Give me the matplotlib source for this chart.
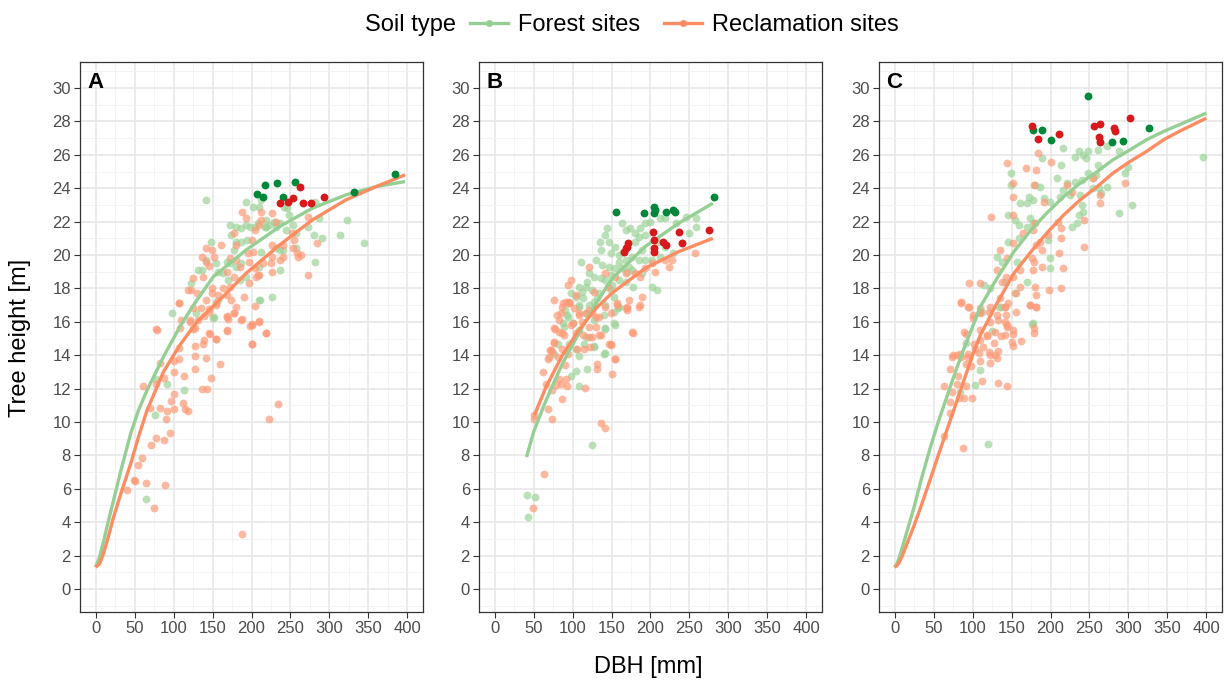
import matplotlib
matplotlib.use("Agg")
import matplotlib.pyplot as plt
from matplotlib.lines import Line2D
from matplotlib.ticker import MultipleLocator
from matplotlib.offsetbox import HPacker

plt.rcParams['font.family'] = ['Liberation Sans', 'DejaVu Sans']

# ---------------- Data ----------------
panel_labels = ["A", "B", "C"]
x_ticks = [0, 50, 100, 150, 200, 250, 300, 350, 400]
y_ticks = list(range(0, 31, 2))
legend_title = "Soil type"
legend_labels = ["Forest sites", "Reclamation sites"]

# Panel A
A_forest_x = [141, 193, 202, 210, 212, 242, 246, 248, 282, 172, 174, 180, 187, 193, 198, 204, 208, 217, 219, 223,
              229, 232, 236, 244, 253, 257, 272, 286, 280, 291, 313, 323, 344, 180, 187, 194, 178, 212, 231, 237,
              241, 257, 281, 148, 142, 155, 168, 187, 173, 180, 210, 236, 132, 137, 157, 163, 185, 193, 122, 157,
              210, 226, 98, 129, 152, 170, 219, 151, 78, 92, 114, 76, 65, 211]
A_forest_y = [23.3, 23.2, 22.9, 22.9, 23.3, 22.9, 22.8, 22.4, 23.2, 21.8, 21.2, 21.7, 21.6, 21.8, 21.7, 21.7, 21.9, 21.7, 22.1, 21.8,
              22.0, 21.7, 21.9, 21.5, 21.8, 21.3, 21.7, 22.2, 21.2, 21.0, 21.2, 22.1, 20.7, 20.8, 20.8, 20.9, 20.3, 20.2, 20.4, 20.3,
              20.3, 20.4, 19.6, 20.8, 19.7, 19.5, 19.6, 19.5, 19.5, 19.3, 19.3, 19.1, 19.1, 19.1, 19.0, 18.9, 18.5, 18.7, 18.3, 17.3,
              17.3, 17.5, 16.5, 16.5, 16.3, 18.5, 21.7, 16.2, 12.6, 12.3, 11.9, 10.4, 5.4, 17.3]
A_recl_x = [107, 78, 108, 121, 125, 131, 139, 146, 155, 168, 170, 169, 178, 188, 200, 209, 205, 219, 201, 147,
            154, 138, 127, 107, 127, 141, 159, 127, 113, 101, 100, 107, 83, 88, 78, 61, 148, 136, 143, 101,
            97, 112, 118, 115, 101, 82, 70, 91, 90, 77, 95, 88, 71, 60, 54, 49, 50, 40, 65, 89,
            75, 188, 222, 234, 198,
            188, 193, 212, 226, 177, 210, 212, 205, 231, 180, 200, 202, 226, 240, 252, 255, 253, 260, 263, 272,
            284, 273, 142, 149, 152, 161, 136, 142, 146, 172, 180, 195, 168, 178, 185, 197, 204, 215, 225, 226,
            208, 197, 172, 163, 149, 138, 125, 118, 130, 142, 149, 157, 168, 174, 180, 190, 206, 209, 226, 240,
            236, 259, 107, 125, 135, 146, 155, 168, 178, 186, 200, 210, 219, 201, 168, 155, 146, 139, 127, 121,
            110, 79, 123]
A_recl_y = [17.1, 15.55, 15.6, 16.0, 15.55, 16.1, 16.35, 16.75, 17.1, 16.35, 16.15, 15.45, 16.55, 16.15, 15.85, 16.05, 16.95, 15.35, 14.65, 15.25,
            14.95, 14.65, 14.55, 14.45, 13.97, 13.85, 13.45, 13.17, 12.75, 13.0, 13.65, 13.8, 13.55, 12.65, 12.28, 12.16, 12.65, 11.95, 11.95, 11.65,
            11.25, 11.15, 10.65, 10.75, 10.75, 10.85, 10.85, 10.65, 10.15, 9.05, 9.35, 8.95, 8.65, 7.85, 7.45, 6.5, 6.45, 5.95, 6.35, 6.25,
            4.85, 3.3, 10.15, 11.05, 15.75,
            22.6, 22.2, 22.6, 22.5, 21.3, 21.8, 22.1, 21.5, 22.0, 20.6, 20.9, 20.2, 20.6, 20.6, 21.3, 20.9, 20.4, 19.9, 20.0, 22.3,
            20.7, 18.8, 20.4, 20.3, 19.9, 20.6, 19.9, 19.6, 19.35, 19.8, 19.7, 20.1, 19.0, 18.7, 19.3, 19.6, 19.2, 19.5, 19.5, 19.0,
            18.8, 18.3, 18.1, 18.0, 18.0, 18.7, 18.6, 17.9, 17.7, 17.3, 17.7, 17.6, 17.6, 17.3, 16.9, 17.5, 18.7, 18.8, 19.9, 19.9,
            19.7, 20.1, 17.1, 16.8, 16.8, 16.6, 17.0, 16.3, 16.5, 16.1, 15.8, 16.0, 15.3, 14.7, 15.5, 15.0, 15.3, 14.9, 15.6, 16.1,
            16.1, 15.5, 17.9]
A_forest_top_x = [217, 233, 256, 207, 215, 241, 332, 384]
A_forest_top_y = [24.2, 24.3, 24.35, 23.65, 23.5, 23.5, 23.8, 24.85]
A_recl_top_x = [262, 236, 247, 253, 266, 276, 293]
A_recl_top_y = [24.1, 23.1, 23.15, 23.4, 23.1, 23.1, 23.45]
A_forest_fit_x = [0, 5, 10, 15, 23, 33, 45, 55, 66, 87, 108, 127, 151, 193, 236, 278, 321, 360, 397]
A_forest_fit_y = [1.3, 1.9, 2.8, 3.8, 5.3, 7.2, 9.3, 10.7, 11.9, 13.9, 15.7, 17.1, 18.7, 20.3, 21.7, 22.8, 23.6, 24.1, 24.4]
A_recl_fit_x = [0, 5, 10, 15, 23, 33, 45, 55, 66, 87, 108, 130, 159, 193, 236, 278, 321, 360, 397]
A_recl_fit_y = [1.3, 1.5, 2.1, 2.9, 4.3, 5.8, 7.5, 9.1, 10.7, 13.0, 14.6, 16.0, 17.3, 18.9, 20.6, 22.1, 23.3, 24.1, 24.8]

# Panel B
B_forest_x = [163, 168, 174, 180, 187, 193, 200, 144, 141, 135, 147, 155, 180, 185, 193, 212, 219, 233, 246, 259,
              259, 249, 240, 229, 219, 210, 189, 137, 149, 159, 168, 176, 185, 193, 202, 212, 111, 130, 138, 147,
              155, 163, 172, 176, 189, 121, 127, 136, 142, 149, 159, 168, 178, 202, 208, 108, 117, 125, 134, 149,
              98, 104, 113, 121, 142, 153, 159, 108, 117, 127, 94, 100, 142, 154, 89, 108, 117, 127, 140, 96,
              81, 76, 88, 93, 108, 140, 153, 158, 142, 115, 127, 105, 108, 141, 104, 98, 118, 108, 125, 41,
              52, 43, 90, 153, 150, 165, 170, 132, 118, 112, 128, 160]
B_forest_y = [21.9, 21.5, 21.6, 21.3, 21.6, 21.9, 22.0, 21.6, 21.2, 20.8, 20.8, 20.5, 20.8, 21.1, 21.2, 22.2, 22.2, 21.9, 22.3, 22.2,
              21.7, 21.3, 20.7, 20.1, 20.5, 20.8, 20.3, 20.3, 20.1, 20.0, 19.7, 19.9, 19.7, 19.7, 19.7, 19.9, 19.6, 19.7, 19.4, 19.3,
              19.2, 19.2, 19.3, 19.1, 18.9, 18.9, 18.7, 18.6, 18.5, 18.8, 18.5, 18.4, 18.1, 18.1, 17.9, 18.1, 18.1, 17.9, 17.7, 17.9,
              17.7, 17.5, 17.4, 17.0, 17.0, 17.5, 16.9, 16.9, 16.5, 16.1, 16.3, 15.9, 15.6, 15.8, 15.7, 15.5, 15.1, 14.5, 14.1, 14.7,
              14.7, 14.1, 15.9, 16.4, 17.0, 16.4, 15.9, 16.8, 15.55, 14.7, 14.55, 14.35, 13.95, 14.15, 13.05, 12.75, 13.15, 12.15, 8.65, 5.6,
              5.5, 4.3, 16.7, 16.6, 18.2, 20.2, 19.0, 17.4, 18.4, 17.8, 17.2, 19.6]
B_recl_x = [257, 224, 227, 206, 193, 187, 180, 168, 155, 142, 121, 98, 94, 189, 172, 168, 157, 149, 134, 125,
            117, 108, 102, 87, 91, 96, 85, 83, 76, 83, 89, 104, 121, 130, 134, 125, 149, 176, 123, 115,
            106, 76, 72, 70, 155, 185, 202, 219,
            76, 88, 95, 96, 108, 121, 130, 142, 157, 170, 170, 186, 177, 78, 86, 98, 113, 121, 136, 147,
            149, 155, 76, 71, 74, 87, 94, 81, 69, 90, 62, 82, 92, 85, 79, 93, 66, 74, 87, 116,
            132, 132, 151, 68, 51, 51, 74, 137, 142, 63, 49, 112, 100, 128, 145, 80, 105]
B_recl_y = [20.1, 19.3, 19.7, 19.0, 19.2, 18.7, 18.9, 18.9, 18.7, 18.9, 19.3, 18.5, 18.2, 17.5, 17.3, 16.8, 17.1, 16.5, 16.3, 16.5,
            16.5, 16.4, 16.8, 16.9, 17.2, 17.1, 16.5, 16.1, 15.6, 15.4, 15.2, 15.3, 15.7, 15.7, 15.2, 15.1, 14.7, 15.4, 14.5, 14.4,
            14.4, 14.8, 14.3, 13.9, 13.8, 16.9, 19.5, 19.7,
            17.3, 17.1, 17.1, 17.2, 16.5, 16.7, 16.3, 16.9, 17.0, 16.7, 16.9, 17.0, 15.35, 15.55, 15.3, 15.8, 15.2, 15.1, 15.2, 14.7,
            14.6, 13.75, 14.75, 14.3, 14.2, 14.35, 14.1, 13.9, 13.75, 13.4, 13.0, 12.6, 12.6, 12.3, 12.2, 12.15, 12.3, 11.9, 11.4, 12.05,
            13.45, 13.2, 12.85, 10.8, 10.4, 10.2, 10.15, 9.95, 9.65, 6.9, 4.85, 16.0, 15.9, 17.8, 18.1, 16.4, 17.6]
B_forest_top_x = [156, 192, 205, 206, 205, 220, 229, 231, 281]
B_forest_top_y = [22.6, 22.5, 22.9, 22.7, 22.5, 22.6, 22.7, 22.6, 23.5]
B_recl_top_x = [168, 170, 171, 166, 203, 205, 204, 205, 216, 220, 236, 241, 275]
B_recl_top_y = [20.4, 20.5, 20.7, 20.2, 21.4, 20.9, 20.4, 20.2, 20.8, 20.6, 21.4, 20.7, 21.5]
B_forest_fit_x = [41, 50, 66, 87, 108, 130, 151, 193, 236, 280]
B_forest_fit_y = [7.9, 9.4, 11.3, 13.5, 15.3, 17.1, 18.6, 20.5, 21.9, 23.1]
B_recl_fit_x = [51, 66, 87, 108, 130, 150, 193, 236, 280]
B_recl_fit_y = [10.4, 12.1, 14.0, 15.5, 16.8, 17.7, 19.2, 20.2, 21.0]

# Panel C
C_forest_x = [216, 189, 214, 231, 237, 242, 248, 246, 261, 272, 288, 299, 295, 273, 261, 259, 255, 248, 240, 231,
              221, 208, 216, 212, 225, 238, 240, 242, 237, 234, 228, 255, 265, 262, 305, 288, 395, 180, 186, 149,
              149, 173, 177, 161, 170, 192, 199, 145, 155, 160, 170, 178, 174, 146, 159, 197, 131, 138, 157, 199,
              199, 115, 123, 141, 136, 177, 156, 170, 134, 176, 125, 92, 110, 103, 84, 120, 112]
C_forest_y = [26.4, 25.8, 25.4, 25.9, 26.2, 26.0, 26.2, 25.8, 26.3, 26.5, 26.2, 25.3, 24.9, 24.1, 25.4, 24.8, 24.6, 24.9, 24.5, 24.4,
              24.3, 24.6, 23.9, 23.5, 23.6, 23.6, 23.0, 22.6, 22.4, 21.9, 21.7, 24.0, 23.7, 24.0, 23.0, 22.5, 25.9, 24.2, 24.1, 24.9,
              24.2, 23.5, 23.3, 23.1, 23.1, 23.4, 23.2, 22.4, 22.1, 21.8, 21.7, 21.9, 22.2, 20.8, 21.0, 20.9, 19.9, 19.6, 19.6, 19.8,
              19.2, 18.2, 18.0, 18.4, 16.9, 15.9, 17.7, 18.4, 16.9, 15.85, 15.45, 14.75, 13.1, 12.2, 11.8, 8.7, 16.6]
C_recl_x = [184, 201, 144, 168, 182, 179, 152, 152, 192, 221, 228, 255, 264, 263, 295, 243, 124, 152, 180, 210,
            214, 178, 165, 197, 187, 214, 152, 182, 135, 189, 211, 243, 144, 176, 179, 161, 178, 189, 216, 132,
            143, 152, 138, 109, 96, 161, 180, 198, 213, 155, 182, 174, 182, 135, 142, 85, 94, 110, 121, 101,
            110, 131, 143, 142, 144, 152, 150, 179, 123, 110, 119, 129, 110, 102, 89, 75, 85, 94, 121, 129,
            85, 95, 146, 142, 156, 123, 110, 101, 133, 144, 174, 182, 179, 152, 142, 162, 152, 136, 118, 92,
            127, 114, 108, 133, 123, 103, 94, 84, 74, 80, 92, 98, 109, 122, 132, 71, 81, 112, 133, 144,
            92, 63, 74, 83, 89, 99, 71, 71, 64, 88, 80]
C_recl_y = [26.1, 25.6, 25.5, 25.2, 25.1, 24.2, 24.3, 23.5, 23.2, 24.2, 23.8, 24.6, 23.6, 23.1, 24.3, 22.1, 22.3, 22.4, 21.9, 22.0,
            21.6, 21.5, 21.3, 21.2, 20.8, 21.0, 20.7, 20.6, 20.3, 20.3, 20.1, 20.5, 19.8, 19.8, 19.6, 19.1, 19.1, 19.3, 19.2, 19.1,
            18.7, 18.7, 18.4, 18.3, 18.3, 18.1, 18.1, 17.9, 18.0, 17.7, 17.6, 17.0, 16.9, 17.4, 16.9, 17.2, 16.9, 16.8, 16.6, 16.4,
            16.6, 16.4, 16.4, 16.0, 15.7, 15.5, 14.8, 15.6, 16.0, 15.5, 15.2, 15.4, 14.9, 14.7, 15.4, 14.0, 13.9, 14.1, 14.2, 14.0,
            17.1, 16.9, 17.1, 16.9, 16.6, 16.9, 16.5, 16.2, 16.1, 15.8, 17.0, 16.9, 15.35, 15.25, 15.2, 14.85, 14.55, 15.15, 15.15, 15.25,
            14.75, 14.5, 14.15, 14.25, 14.0, 14.35, 13.9, 14.1, 13.9, 14.0, 13.45, 13.35, 13.65, 13.55, 13.85, 13.15, 12.75, 12.45, 12.35, 12.15,
            12.15, 12.15, 11.8, 11.45, 11.45, 11.45, 11.2, 10.55, 9.15, 8.45, 12.3]
C_forest_top_x = [248, 178, 189, 201, 279, 293, 326]
C_forest_top_y = [29.5, 27.5, 27.5, 26.9, 26.75, 26.8, 27.6]
C_recl_top_x = [176, 184, 211, 256, 263, 262, 264, 282, 283, 302]
C_recl_top_y = [27.7, 26.95, 27.25, 27.7, 27.85, 27.05, 26.75, 27.6, 27.4, 28.2]
C_forest_fit_x = [0, 3, 6, 10, 15, 20, 25, 35, 46, 56, 67, 78, 89, 100, 110, 130, 153, 175, 195, 217, 238, 260, 280, 302, 323, 345, 365, 400]
C_forest_fit_y = [1.3, 1.5, 1.9, 2.5, 3.3, 4.1, 4.9, 6.7, 8.5, 10.0, 11.5, 13.0, 14.4, 15.7, 16.9, 18.5, 20.2, 21.5, 22.5, 23.5, 24.3, 25.0, 25.7, 26.3, 26.9, 27.4, 27.8, 28.5]
C_recl_fit_x = [0, 3, 6, 10, 15, 20, 25, 35, 46, 56, 67, 78, 89, 100, 110, 130, 153, 175, 195, 217, 238, 260, 280, 302, 323, 345, 365, 400]
C_recl_fit_y = [1.3, 1.4, 1.6, 2.0, 2.6, 3.2, 3.8, 5.1, 6.6, 8.0, 9.5, 11.0, 12.5, 14.0, 15.2, 17.0, 18.9, 20.2, 21.3, 22.4, 23.3, 24.1, 24.9, 25.6, 26.2, 26.9, 27.4, 28.2]

# ---------------- Styling ----------------
col_forest = "#9dd39a"
col_recl = "#fd9a78"
line_forest = "#96cf93"
line_recl = "#fc8d62"
col_forest_top = "#00873a"
col_recl_top = "#d7191c"
grid_major = "#e6e6e6"
grid_minor = "#f2f2f2"

fig = plt.figure(figsize=(12.3, 6.8), dpi=100)

panels = [
    (A_forest_x, A_forest_y, A_recl_x, A_recl_y, A_forest_top_x, A_forest_top_y, A_recl_top_x, A_recl_top_y,
     A_forest_fit_x, A_forest_fit_y, A_recl_fit_x, A_recl_fit_y),
    (B_forest_x, B_forest_y, B_recl_x, B_recl_y, B_forest_top_x, B_forest_top_y, B_recl_top_x, B_recl_top_y,
     B_forest_fit_x, B_forest_fit_y, B_recl_fit_x, B_recl_fit_y),
    (C_forest_x, C_forest_y, C_recl_x, C_recl_y, C_forest_top_x, C_forest_top_y, C_recl_top_x, C_recl_top_y,
     C_forest_fit_x, C_forest_fit_y, C_recl_fit_x, C_recl_fit_y),
]
lefts_px = [80, 479, 879]
W, H = 1230.0, 680.0
for i, (lab, p) in enumerate(zip(panel_labels, panels)):
    (fx, fy, rx, ry, ftx, fty, rtx, rty, ffx, ffy, rfx, rfy) = p
    ax = fig.add_axes([lefts_px[i] / W, 1 - 612 / H, 343 / W, 550 / H])
    ax.set_xlim(-20, 420)
    ax.set_ylim(-1.38, 31.56)
    ax.xaxis.set_minor_locator(MultipleLocator(25))
    ax.yaxis.set_minor_locator(MultipleLocator(1))
    ax.set_xticks(x_ticks)
    ax.set_yticks(y_ticks)
    ax.grid(which='major', color=grid_major, linewidth=1.1, zorder=0)
    ax.grid(which='minor', color=grid_minor, linewidth=0.6, zorder=0)
    ax.set_axisbelow(True)
    ax.tick_params(which='minor', length=0)
    ax.tick_params(which='major', length=4, width=0.8, color="#333333", labelsize=12,
                   labelcolor="#4d4d4d", pad=2.5)
    for s in ax.spines.values():
        s.set_color("#333333")
        s.set_linewidth(0.9)
    ax.scatter(fx, fy, s=32, color=col_forest, alpha=0.7, linewidths=0, zorder=2)
    ax.scatter(rx, ry, s=32, color=col_recl, alpha=0.7, linewidths=0, zorder=2)
    ax.plot(ffx, ffy, color=line_forest, lw=2.4, zorder=3, solid_capstyle='butt')
    ax.plot(rfx, rfy, color=line_recl, lw=2.4, zorder=3, solid_capstyle='butt')
    ax.scatter(ftx, fty, s=32, color=col_forest_top, linewidths=0, zorder=4)
    ax.scatter(rtx, rty, s=32, color=col_recl_top, linewidths=0, zorder=4)
    ax.text(0.022, 0.982, lab, transform=ax.transAxes, ha='left', va='top',
            fontsize=16, fontweight='bold', color='black')

fig.text(648 / W, 1 - 667 / H, "DBH [mm]", ha='center', va='center', fontsize=17)
fig.text(20 / W, 1 - 338 / H, "Tree height [m]", ha='center', va='center', fontsize=17, rotation=90)

# Legend
handles = [Line2D([0], [0], color=line_forest, lw=2.4, marker='o', markersize=4),
           Line2D([0], [0], color=line_recl, lw=2.4, marker='o', markersize=4)]
leg = fig.legend(handles, legend_labels, title=legend_title, loc='center',
                 bbox_to_anchor=(632 / W, 1 - 25 / H), ncol=2, frameon=False, fontsize=17,
                 title_fontsize=17, handlelength=1.6, handletextpad=0.45, columnspacing=1.0,
                 borderpad=0)
title_box = leg._legend_title_box
handle_box = leg._legend_handle_box
leg._legend_box._children = [HPacker(pad=0, sep=10, children=[title_box, handle_box], align="center")]

fig.savefig("out.png", dpi=100)
